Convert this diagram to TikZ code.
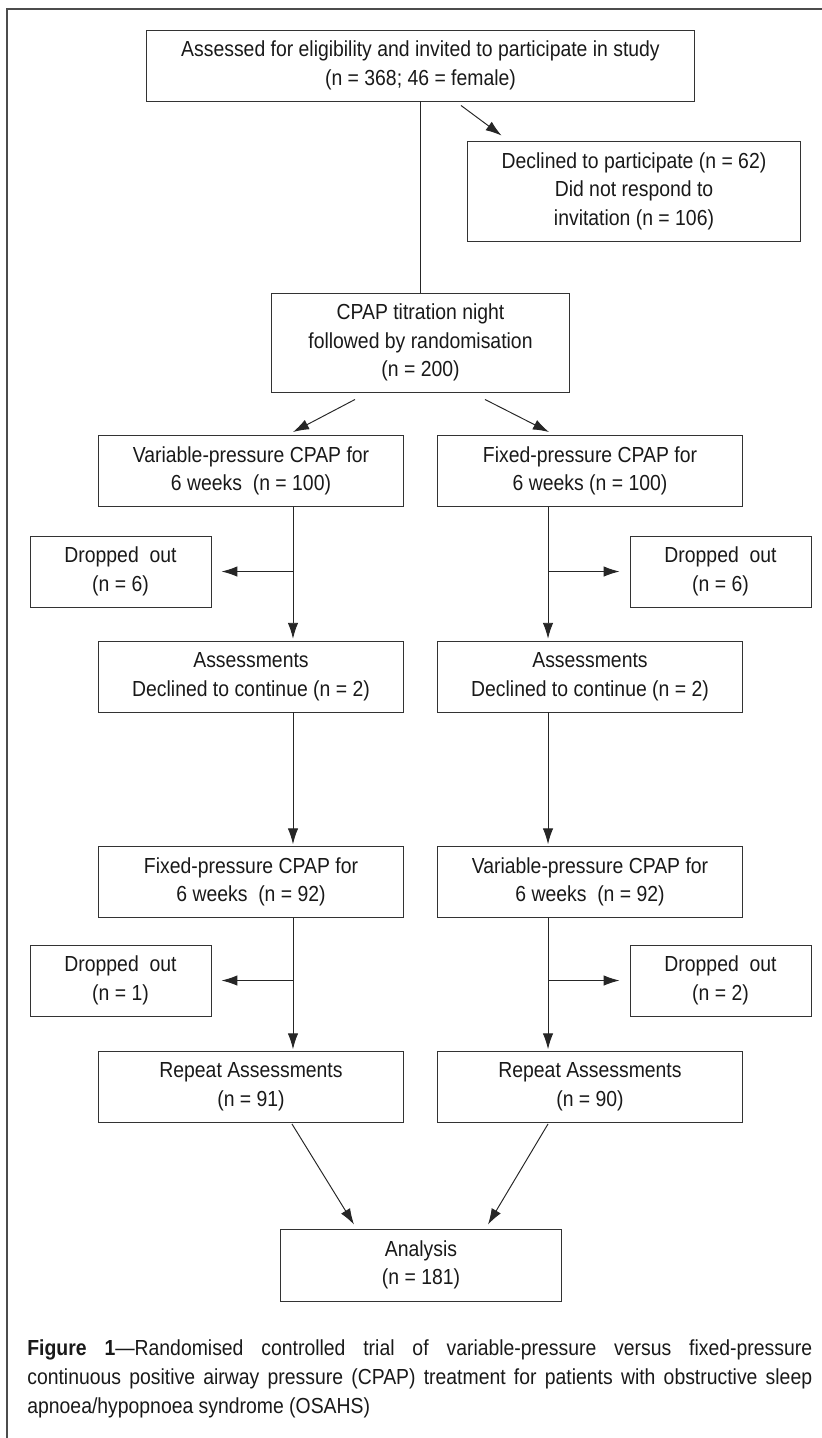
\documentclass[tikz,border=0pt]{standalone}
\usepackage{fontspec}
\setmainfont[FakeStretch=0.89]{Liberation Sans}
\usetikzlibrary{arrows.meta}

\begin{document}
\begin{tikzpicture}[x=0.02cm, y=-0.02cm, >={Latex[length=3.2mm,width=2.1mm]},
        box/.style={draw=black!80, line width=0.55pt, align=center, inner sep=0pt,
            text=black!90, font=\fontsize{12.4}{16.3}\selectfont},
        widebox/.style={box, minimum width=6.12cm, minimum height=1.42cm},
        dropbox/.style={box, minimum width=3.62cm, minimum height=1.42cm},
        link/.style={draw=black!85, line width=0.55pt},
        flow/.style={link, ->}]
            \useasboundingbox (0,0) rectangle (822,1438);
            \draw[black!70, line width=1pt] (822,9.3) -- (7,9.3) -- (7,1438);

            \node[box, minimum width=10.98cm, minimum height=1.42cm] (elig) at (420.5,65.5)
                {Assessed for eligibility and invited to participate in study\\(n = 368; 46 = female)};
            \node[box, minimum width=6.68cm, minimum height=2cm] (decl) at (634,191)
                {Declined to participate (n = 62)\\Did not respond to\\invitation (n = 106)};
            \node[box, minimum width=5.98cm, minimum height=1.98cm] (titr) at (420.5,342.5)
                {CPAP titration night\\followed by randomisation\\(n = 200)};

            \node[widebox] (vpa) at (251,471) {Variable-pressure CPAP for\\6 weeks\ \ (n = 100)};
            \node[widebox] (fpa) at (590,471) {Fixed-pressure CPAP for\\6 weeks (n = 100)};
            \node[dropbox] (dropa) at (120.5,571.5) {Dropped\ \ out\\(n = 6)};
            \node[dropbox] (dropb) at (720.5,571.5) {Dropped\ \ out\\(n = 6)};
            \node[widebox] (assa) at (251,676.5) {Assessments\\Declined to continue (n = 2)};
            \node[widebox] (assb) at (590,676.5) {Assessments\\Declined to continue (n = 2)};
            \node[widebox] (fpc) at (251,882) {Fixed-pressure CPAP for\\6 weeks\ \ (n = 92)};
            \node[widebox] (vpc) at (590,882) {Variable-pressure CPAP for\\6 weeks\ \ (n = 92)};
            \node[dropbox] (dropc) at (120.5,980.5) {Dropped\ \ out\\(n = 1)};
            \node[dropbox] (dropd) at (720.5,980.5) {Dropped\ \ out\\(n = 2)};
            \node[widebox] (repa) at (251,1087) {Repeat Assessments\\(n = 91)};
            \node[widebox] (repb) at (590,1087) {Repeat Assessments\\(n = 90)};
            \node[box, minimum width=5.64cm, minimum height=1.44cm] (anal) at (421,1265)
                {Analysis\\(n = 181)};

            \node[anchor=north west, inner sep=0pt, text width=15.7cm, align=justify,
                text=black!90, font=\fontsize{12.4}{16.7}\selectfont] (capt) at (27,1339)
                {\textbf{Figure 1}---Randomised controlled trial of variable-pressure versus fixed-pressure\linebreak
                continuous positive airway pressure (CPAP) treatment for patients with obstructive sleep\linebreak
                apnoea/hypopnoea syndrome (OSAHS)};

            \draw[link] (elig) -- (titr);
            \draw[flow] ([xshift=0.81cm,yshift=-0.08cm]elig.south) -- ([xshift=0.7cm,yshift=0.1cm]decl.north west);
            \draw[flow] ([xshift=-1.31cm,yshift=-0.14cm]titr.south) -- ([xshift=0.84cm,yshift=0.06cm]vpa.north);
            \draw[flow] ([xshift=1.29cm,yshift=-0.14cm]titr.south) -- ([xshift=-0.82cm,yshift=0.06cm]fpa.north);

            \coordinate (lx) at ([xshift=0.84cm]vpa.south);
            \coordinate (rx) at ([xshift=-0.84cm]fpa.south);
            \foreach \a/\b in {vpa/assa, assa/fpc, fpc/repa}{
                \draw[flow, shorten >=1pt] (lx |- \a.south) -- (lx |- \b.north);
            }
            \foreach \a/\b in {fpa/assb, assb/vpc, vpc/repb}{
                \draw[flow, shorten >=1pt] (rx |- \a.south) -- (rx |- \b.north);
            }
            \foreach \d in {dropa, dropc}{
                \draw[flow] (lx |- \d.east) -- ([xshift=0.2cm]\d.east);
            }
            \foreach \d in {dropb, dropd}{
                \draw[flow] (rx |- \d.west) -- ([xshift=-0.2cm]\d.west);
            }

            \draw[flow] ([xshift=0.82cm,yshift=-0.02cm]repa.south) -- ([xshift=-1.34cm,yshift=0.08cm]anal.north);
            \draw[flow] ([xshift=-0.84cm,yshift=-0.02cm]repb.south) -- ([xshift=1.34cm,yshift=0.08cm]anal.north);
        \end{tikzpicture}
\end{document}
